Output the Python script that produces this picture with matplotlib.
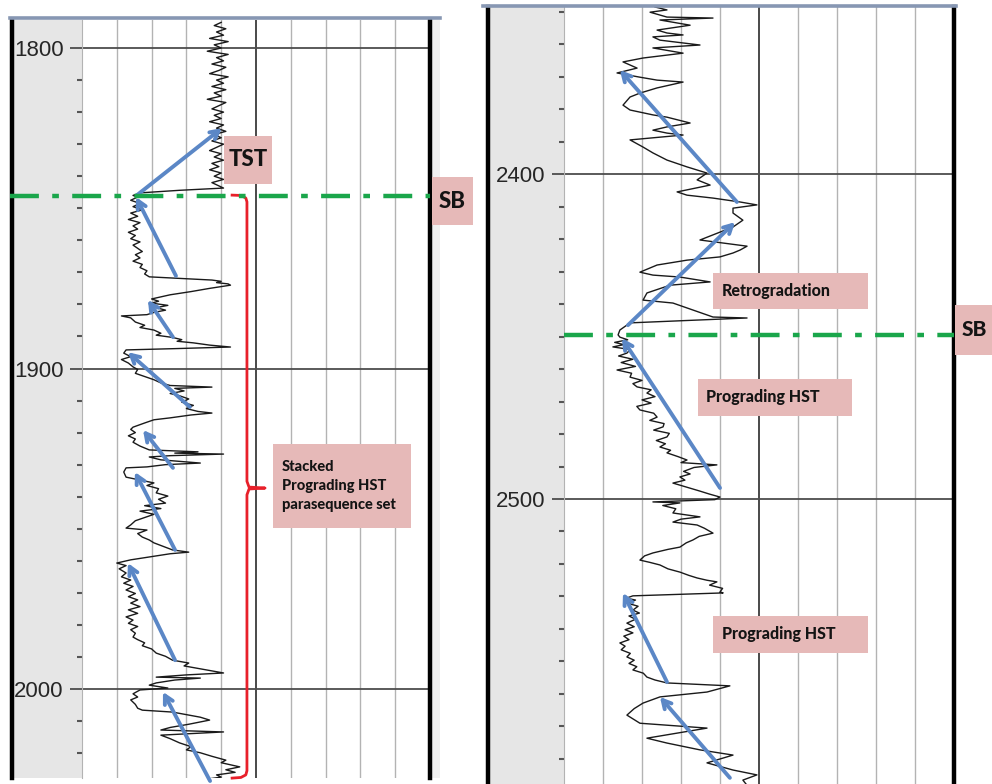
import matplotlib
matplotlib.use('Agg')
import matplotlib.pyplot as plt
from matplotlib.patches import Rectangle
from matplotlib.lines import Line2D

W, H = 992, 784

# ---- gamma-ray log, upper well section (depth m, GR API) ----
left_depth = [
    1792, 1793, 1794, 1795, 1796, 1797, 1798, 1799, 1800, 1801, 1802, 1803, 1804, 1805,
    1806, 1807, 1808, 1809, 1810, 1811, 1812, 1813, 1814, 1815, 1816, 1817, 1818, 1819,
    1820, 1821, 1822, 1823, 1824, 1825, 1826, 1827, 1828, 1829, 1830, 1831, 1832, 1833,
    1834, 1835, 1836, 1837, 1838, 1839, 1840, 1841, 1842, 1843,
    1843.7, 1844.4, 1845.2, 1846.0, 1846.5, 1847.5, 1848.5, 1849.5, 1850.5, 1851.5,
    1852.5, 1853.5, 1854.5, 1855.5, 1856.5, 1857.5, 1858.5, 1859.5, 1860.5, 1861.5,
    1862.5, 1863.5, 1864.5, 1865.5, 1866.5, 1867.5, 1868.5, 1869.5, 1870.5,
    1871.4, 1872.0, 1872.4, 1872.8, 1873.2, 1873.6, 1874.0, 1875.0, 1876.0, 1877.0,
    1878.3, 1879.0, 1879.6, 1880.3, 1881.0, 1881.8, 1882.5, 1883.2, 1883.6, 1884.2,
    1885.5, 1886.5, 1887.2, 1888.0, 1889.0, 1889.6, 1890.3, 1891.0, 1891.5, 1892.0,
    1892.7, 1893.3, 1893.8, 1894.2, 1895.2, 1896.3, 1897.2, 1898.3, 1899.5, 1900.3,
    1901.5, 1902.5, 1903.5, 1904.5, 1905.3, 1905.8, 1906.2, 1907.0, 1907.8, 1908.5,
    1909.5, 1910.5, 1911.5, 1912.5, 1913.4, 1913.9, 1914.5, 1915.4, 1916.0, 1917.0,
    1918.3, 1919.0, 1920.0, 1921.0, 1922.0, 1923.0, 1924.2, 1925.4, 1926.0, 1926.4,
    1926.7, 1927.2, 1927.6, 1928.5, 1929.5, 1930.0, 1930.7, 1931.0, 1932.3, 1933.9,
    1934.8, 1935.7, 1936.5, 1937.5, 1938.8, 1939.8, 1940.8, 1942.0, 1942.8, 1943.7,
    1944.5, 1945.5, 1946.5, 1947.5, 1948.8, 1949.8, 1950.4, 1951.5, 1952.6, 1953.5,
    1954.4, 1955.5, 1956.6, 1957.3, 1957.8, 1958.8, 1959.7, 1960.7, 1961.5, 1962.5,
    1963.8, 1965.0, 1966.0, 1967.0, 1968.0, 1969.1, 1970.2, 1971.2, 1972.2, 1973.2,
    1974.3, 1975.3, 1976.4, 1977.5, 1978.5, 1979.5, 1980.5, 1981.5, 1982.6, 1983.8,
    1984.6, 1985.6, 1986.5, 1987.5, 1988.8, 1989.8, 1991.0, 1991.9, 1992.8, 1994.1,
    1995.0, 1995.6, 1996.3, 1996.6, 1997.2, 1998.1, 1998.8, 1999.7, 2000.3, 2001.5,
    2002.5, 2003.4, 2004.8, 2006.0, 2006.6, 2007.2, 2008.0, 2008.8, 2009.7, 2011.0,
    2012.0, 2012.8, 2013.4, 2014.4, 2015.5, 2016.8, 2018.0, 2019.0, 2019.9, 2021.0,
    2022.2, 2023.0, 2024.3, 2025.2, 2026.0, 2026.8, 2027.5, 2028.0,
]
left_gr = [
    60, 57, 62, 58, 61, 55, 63, 57, 60, 54, 63, 58, 61, 56,
    62, 59, 55, 63, 58, 61, 56, 62, 57, 60, 54, 62, 59, 56,
    61, 57, 60, 55, 61, 58, 62, 57, 60, 56, 61, 58, 55, 60,
    57, 61, 56, 59, 55, 60, 57, 61, 56, 59,
    61, 42, 25, 22, 24, 21, 25, 22, 26, 21,
    24, 20, 25, 22, 24, 20, 23, 21, 25, 22,
    24, 26, 23, 25, 22, 26, 25, 28, 27,
    29, 45, 56, 60, 58, 63, 64, 55, 47, 38,
    30, 33, 30, 37, 32, 36, 31, 28, 17, 21,
    23, 27, 25, 31, 34, 32, 39, 43, 41, 48,
    55, 64, 40, 19, 18, 21, 17, 20, 22, 24,
    23, 27, 31, 34, 38, 56, 40, 44, 38, 42,
    46, 43, 48, 45, 50, 56, 47, 38, 31, 27,
    22, 21, 23, 20, 23, 22, 25, 29, 50, 40,
    61, 38, 29, 34, 51, 36, 28, 19, 18, 19,
    25, 31, 28, 33, 32, 37, 33, 36, 27, 34,
    25, 31, 27, 23, 21, 19, 28, 24, 26, 29,
    31, 35, 39, 46, 38, 29, 21, 15, 19, 16,
    19, 17, 21, 18, 22, 19, 23, 20, 24, 21,
    25, 20, 24, 19, 22, 20, 24, 21, 23, 22,
    24, 27, 26, 30, 32, 36, 39, 46, 44, 54,
    61, 45, 32, 51, 40, 32, 29, 37, 25, 22,
    24, 21, 23, 24, 26, 39, 45, 51, 55, 46,
    38, 34, 61, 34, 38, 42, 47, 45, 51, 56,
    62, 60, 68, 62, 66, 58, 60, 55,
]

# ---- gamma-ray log, lower well section ----
right_depth = [
    2348.6, 2349.5, 2350.2, 2351.7, 2352.0, 2352.6, 2354.2, 2355.7, 2356.6, 2357.2,
    2357.8, 2358.8, 2360.3, 2361.2, 2362.8, 2364.3, 2365.5, 2367.4, 2368.9, 2370.2,
    2371.1, 2371.7, 2373.5, 2375.1, 2376.3, 2378.8, 2380.3, 2381.8, 2382.5, 2384.3,
    2385.5, 2386.5, 2387.4, 2388.0, 2389.5, 2391.7, 2393.5, 2395.7, 2397.8, 2399.7,
    2401.8, 2403.4, 2405.5, 2406.5, 2407.4, 2408.6, 2409.5, 2410.5, 2412.0, 2414.2,
    2416.3, 2420.3, 2422.2, 2423.4, 2424.3, 2425.5, 2426.5, 2428.0, 2430.2, 2431.1,
    2431.7, 2433.2, 2434.2, 2436.6, 2438.8, 2439.7, 2441.2, 2444.0, 2444.3, 2445.8,
    2448.0, 2449.5,
    2450.2, 2451.0, 2451.8, 2452.5, 2453.2, 2454.0, 2455.1, 2456.0, 2457.0, 2458.0,
    2459.2, 2460.3, 2461.3, 2462.5, 2463.5, 2464.5, 2465.5, 2466.4, 2467.4, 2468.5,
    2469.5, 2470.5, 2471.5, 2472.6, 2473.6, 2474.8, 2475.8, 2476.8, 2477.8, 2478.8,
    2479.8, 2480.9, 2482.0, 2483.0, 2484.0, 2485.0, 2485.8, 2487.0, 2488.0, 2488.8,
    2489.5, 2490.3, 2491.5, 2492.3, 2493.2, 2494.2, 2495.1, 2496.3, 2497.5, 2498.5,
    2499.4, 2500.2,
    2500.9, 2501.2, 2502.0, 2503.0, 2504.3, 2505.5, 2506.2, 2507.1, 2508.0, 2509.0,
    2510.5, 2511.5, 2512.6, 2513.5, 2514.8, 2515.5, 2516.6, 2517.5, 2518.8, 2519.5,
    2520.3, 2521.5, 2522.5, 2523.5, 2524.3, 2525.0, 2525.5, 2526.5, 2527.5, 2528.6,
    2528.9,
    2529.8, 2530.5, 2531.1, 2532.0, 2533.0, 2534.2, 2535.1, 2536.0, 2537.0, 2538.2,
    2539.3, 2540.2, 2541.2, 2542.2, 2543.3, 2544.3, 2545.3, 2546.4, 2547.5, 2548.6,
    2549.6, 2550.6, 2551.6, 2552.6, 2553.6, 2554.8, 2555.7, 2556.6,
    2557.5, 2559.4, 2560.9, 2562.8, 2564.5, 2566.5, 2569.0, 2570.5, 2573.6, 2575.1,
    2577.2, 2578.8, 2581.2, 2583.4, 2584.9, 2586.5, 2587.7,
]
right_gr = [
    35.0, 39.6, 33.1, 39.6, 57.3, 36.9, 48.5, 35.8, 39.6, 45.8,
    34.2, 36.9, 52.3, 34.2, 45.8, 30.4, 22.7, 28.1, 20.4, 29.2,
    35.8, 45.8, 35.8, 29.2, 25.4, 22.7, 25.4, 34.2, 39.6, 48.5,
    39.6, 34.2, 39.6, 45.8, 25.4, 30.4, 34.2, 39.6, 47.3, 55.0,
    51.2, 56.2, 43.5, 47.3, 57.3, 67.7, 74.2, 65.0, 65.0, 68.8,
    65.0, 52.3, 70.4, 67.7, 65.0, 60.0, 47.3, 35.8, 29.2, 34.2,
    44.6, 56.2, 40.8, 31.9, 30.4, 41.9, 47.3, 57.3, 70.4, 25.4,
    21.5, 20.8,
    21.5, 24.5, 19.5, 23.0, 18.8, 25.5, 24.2, 21.0, 26.5, 22.0,
    27.5, 20.4, 26.0, 25.4, 30.0, 26.5, 28.1, 33.5, 31.9, 35.0,
    30.0, 33.5, 28.0, 29.2, 34.5, 35.8, 33.0, 38.5, 38.1, 34.5,
    40.5, 39.6, 35.5, 39.0, 36.9, 41.0, 39.6, 44.0, 47.3, 45.0,
    58.8, 50.0, 46.0, 48.5, 44.6, 46.5, 41.9, 47.0, 52.0, 56.0,
    60.0, 58.0,
    34.2, 44.6, 38.0, 43.0, 41.9, 52.3, 45.0, 41.9, 51.2, 54.0,
    57.3, 52.0, 49.6, 47.0, 44.6, 40.0, 34.2, 31.0, 29.2, 33.0,
    36.9, 40.0, 44.6, 48.0, 51.2, 55.0, 58.8, 56.0, 61.0, 60.0,
    61.2,
    26.5, 24.0, 27.5, 24.2, 28.5, 26.5, 29.0, 25.0, 27.5, 24.2,
    27.0, 23.5, 26.5, 23.0, 25.0, 21.5, 23.5, 22.0, 25.5, 24.2,
    27.0, 25.0, 28.0, 26.5, 30.5, 31.9, 35.0, 39.6,
    63.8, 55.0, 36.9, 30.4, 27.0, 24.2, 29.2, 55.0, 31.9, 39.6,
    52.3, 65.0, 55.0, 65.0, 74.2, 68.8, 70.0,
]

# trend arrows: (tail depth, tail GR, head depth, head GR)
left_arrows = [
    (1845.9, 23.7, 1825.0, 60.3),
    (1871.1, 40.5, 1846.5, 23.3),
    (1890.2, 39.2, 1878.6, 28.4),
    (1912.0, 46.5, 1894.9, 19.8),
    (1931.0, 39.2, 1919.2, 26.3),
    (1956.6, 40.1, 1932.3, 22.8),
    (1991.0, 40.1, 1960.7, 19.8),
    (2028.7, 55.2, 2000.9, 34.9),
]
right_arrows = [
    (2408.6, 66.5, 2368.0, 21.5),
    (2446.5, 24.6, 2414.8, 65.8),
    (2496.6, 60.0, 2450.5, 22.3),
    (2556.3, 39.6, 2528.9, 22.7),
    (2585.8, 63.8, 2560.9, 36.9),
]

left_sb = 1846.2
right_sb = 2449.5

assert len(left_depth) == len(left_gr)
assert len(right_depth) == len(right_gr)

PINK = '#e6b9b8'
ARROW = '#5b87c6'
GREEN = '#1aa64b'
LABEL_FONT = ['Liberation Sans Narrow', 'Lato', 'DejaVu Sans']
DEPTH_FONT = ['Liberation Sans', 'DejaVu Sans']

fig = plt.figure(figsize=(W / 100, H / 100), dpi=100)


def box(x0, y0, x1, y1):
    return [x0 / W, 1 - y1 / H, (x1 - x0) / W, (y1 - y0) / H]


def log_panel(band_x, track_x0, track_x1, y_top, y_bot, d_top, d_bot, majors):
    band = fig.add_axes(box(band_x, y_top, track_x0, y_bot))
    band.set_facecolor('#e6e6e6')
    band.set_xticks([])
    band.set_yticks([])
    for name, sp in band.spines.items():
        sp.set_visible(name == 'left')
    band.spines['left'].set_linewidth(3.2)
    band.spines['left'].set_color('black')

    ax = fig.add_axes(box(track_x0, y_top, track_x1, y_bot))
    ax.set_xlim(0, 150)
    ax.set_ylim(d_bot, d_top)
    ax.set_xticks([])
    ax.spines['top'].set_visible(False)
    ax.spines['bottom'].set_visible(False)
    ax.spines['left'].set_color('#b3b3b3')
    ax.spines['right'].set_color('black')
    ax.spines['right'].set_linewidth(3.2)
    for g in range(15, 150, 15):
        if g == 75:
            ax.axvline(g, color='#3a3a3a', lw=1.3, zorder=1)
        else:
            ax.axvline(g, color='#b3b3b3', lw=1.0, zorder=1)
    for d in majors:
        ax.axhline(d, color='#4d4d4d', lw=1.3, zorder=1)
    first = int(d_top // 10 + 1) * 10
    minors = [d for d in range(first, int(d_bot) + 1, 10) if d not in majors]
    ax.set_yticks(majors)
    ax.set_yticklabels([str(d) for d in majors], family=DEPTH_FONT, fontsize=16,
                       color='#262626')
    ax.set_yticks(minors, minor=True)
    ax.tick_params(axis='y', which='major', length=8.6, width=1.3, color='#4d4d4d', pad=4.5)
    ax.tick_params(axis='y', which='minor', length=3.6, width=1.5, color='#555555')
    return ax


def draw_arrows(ax, arrows):
    for d0, g0, d1, g1 in arrows:
        ax.annotate('', xy=(g1, d1), xytext=(g0, d0), annotation_clip=False,
                    arrowprops=dict(arrowstyle='->,head_length=0.6,head_width=0.32',
                                    color=ARROW, lw=2.8, shrinkA=0, shrinkB=0),
                    zorder=4)


def label_box(x0, y0, x1, y1, lines, fontsize, left=None, spacing=1.2):
    fig.add_artist(Rectangle((x0 / W, 1 - y1 / H), (x1 - x0) / W, (y1 - y0) / H,
                             transform=fig.transFigure, facecolor=PINK, edgecolor='none',
                             zorder=6))
    if left is None:
        fig.text((x0 + x1) / 2 / W, 1 - (y0 + y1) / 2 / H, '\n'.join(lines),
                 ha='center', va='center', fontsize=fontsize, fontweight='black',
                 family=LABEL_FONT, color='#141414', zorder=7)
    else:
        fig.text(left / W, 1 - (y0 + y1) / 2 / H, '\n'.join(lines), ha='left',
                 va='center', fontsize=fontsize, fontweight='black', family=LABEL_FONT,
                 color='#141414', linespacing=spacing, zorder=7)


# left well section
axl = log_panel(12, 82, 430, 20, 778, 1791.26, 2027.77, [1800, 1900, 2000])
axl.plot(left_gr, left_depth, color='#1a1a1a', lw=1.0, zorder=3)
draw_arrows(axl, left_arrows)
axl.plot([-0.207, 1.0], [left_sb, left_sb], transform=axl.get_yaxis_transform(),
         color=GREEN, lw=3.2, dashes=(6.5, 3.0, 1.5, 3.0), clip_on=False, zorder=5)

# red brace marking the stacked HST set
brace_gr = [64.7, 68.5, 70.6, 71.1, 71.1, 72.0, 78.9, 72.0, 71.1, 71.1, 70.6, 68.5, 64.7]
brace_d = [1845.9, 1846.0, 1846.8, 1848.0, 1935.2, 1937.0, 1937.3, 1937.6, 1939.4,
           2025.5, 2026.8, 2027.6, 2027.8]
axl.plot(brace_gr, brace_d, color='#e8202a', lw=2.0, clip_on=False, zorder=4,
         solid_joinstyle='round')

# right well section
axr = log_panel(488, 564, 954, 7, 784, 2348.6, 2587.7, [2400, 2500])
axr.plot(right_gr, right_depth, color='#1a1a1a', lw=1.0, zorder=3)
draw_arrows(axr, right_arrows)
axr.axhline(right_sb, color=GREEN, lw=3.2, dashes=(6.5, 3.0, 1.5, 3.0), zorder=5)

# header strips
fig.add_artist(Line2D([10 / W, 440 / W], [1 - 18 / H] * 2, color='#8797b3', lw=2.6))
fig.add_artist(Line2D([483 / W, 956 / W], [1 - 5.5 / H] * 2, color='#8797b3', lw=2.6))
fig.add_artist(Rectangle((432 / W, 1 - 778 / H), 8 / W, 758 / H, transform=fig.transFigure,
                         facecolor='#f0f0f0', edgecolor='none', zorder=0))

# annotation labels
label_box(224, 136, 272, 184, ['TST'], 16)
label_box(432, 177, 473, 225, ['SB'], 16)
label_box(955, 305, 1000, 355, ['SB'], 15, left=962)
label_box(273, 444, 411, 528, ['Stacked', 'Prograding HST', 'parasequence set'], 10.5,
          left=282, spacing=1.5)
label_box(713, 273, 868, 309, ['Retrogradation'], 11.5, left=722)
label_box(698, 379, 852, 416, ['Prograding HST'], 11.5, left=706)
label_box(713, 616, 868, 653, ['Prograding HST'], 11.5, left=722)

fig.savefig('out.png', dpi=100)
